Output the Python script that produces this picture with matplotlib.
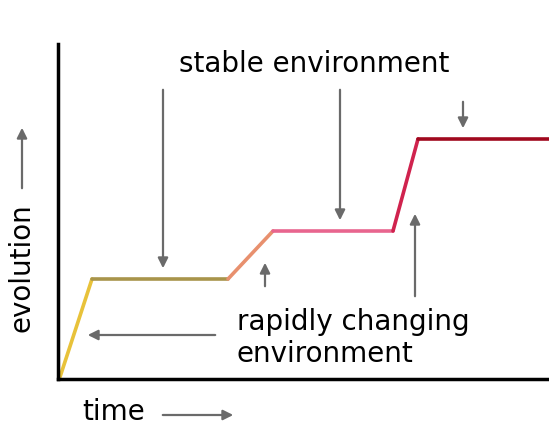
import matplotlib.pyplot as plt
from matplotlib.collections import LineCollection
from matplotlib.patches import FancyArrowPatch
import numpy as np

# path of evolution over time (pixel-like units)
time = [2, 34, 170, 215, 335, 360, 491]
evolution = [2, 100, 100, 148, 148, 240, 240]
seg_colors = ['#e8c23a', '#a8944a', '#e8906e', '#e8658e', '#d0234e', '#a0081e']

fig = plt.figure(figsize=(5.49, 4.27), dpi=100)
ax = fig.add_axes([58 / 549, 47 / 427, 491 / 549, 335 / 427])
ax.set_xlim(0, 491)
ax.set_ylim(0, 335)

pts = np.array([time, evolution]).T
segs = [pts[i:i + 2] for i in range(len(pts) - 1)]
ax.add_collection(LineCollection(segs, colors=seg_colors, linewidths=2.6, capstyle='round'))

for s in ['top', 'right']:
    ax.spines[s].set_visible(False)
for s in ['left', 'bottom']:
    ax.spines[s].set_linewidth(2.5)
ax.set_xticks([])
ax.set_yticks([])

arrow = dict(arrowstyle='-|>', color='#6a6a6a', lw=1.6, mutation_scale=15)

# stable environment arrows (downwards)
ax.annotate('', xy=(105, 108), xytext=(105, 292), arrowprops=arrow)
ax.annotate('', xy=(282, 156), xytext=(282, 292), arrowprops=arrow)
ax.annotate('', xy=(405, 248), xytext=(405, 280), arrowprops=arrow)
ax.text(256, 316, 'stable environment', fontsize=20, ha='center', va='center')

# rapidly changing arrows
ax.annotate('', xy=(207, 119), xytext=(207, 90), arrowprops=arrow)
ax.annotate('', xy=(357, 168), xytext=(357, 80), arrowprops=arrow)
ax.annotate('', xy=(27, 44), xytext=(160, 44), arrowprops=arrow)
ax.text(179, 42, 'rapidly changing\nenvironment', fontsize=20, ha='left', va='center',
        linespacing=1.15)

# axis labels with arrows
fig.text(22 / 549, 1 - 268 / 427, 'evolution', fontsize=20, rotation=90,
         ha='center', va='center')
fig.patches.append(FancyArrowPatch(
    (22 / 549, 1 - 192 / 427), (22 / 549, 1 - 126 / 427), transform=fig.transFigure,
    **arrow))
fig.text(114 / 549, 1 - 412 / 427, 'time', fontsize=20, ha='center', va='center')
fig.patches.append(FancyArrowPatch(
    (160 / 549, 1 - 416 / 427), (236 / 549, 1 - 416 / 427), transform=fig.transFigure,
    **arrow))

fig.savefig('out.png', dpi=100)
